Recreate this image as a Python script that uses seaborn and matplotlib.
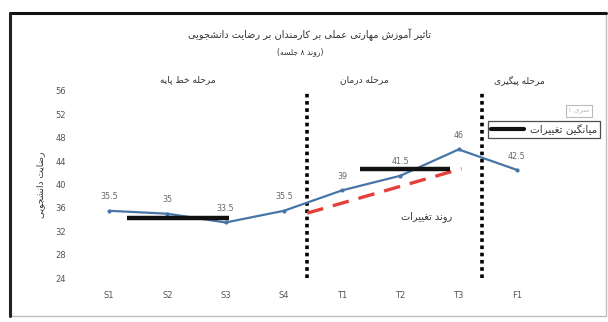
import matplotlib
matplotlib.use("Agg")
import matplotlib.pyplot as plt
import matplotlib.transforms as mtransforms
from matplotlib.lines import Line2D
from matplotlib.patches import Rectangle
import pandas as pd
import seaborn as sns

# ---- data ----
sessions = ["S1", "S2", "S3", "S4", "T1", "T2", "T3", "F1"]
satisfaction = [35.5, 35, 33.5, 35.5, 39, 41.5, 46, 42.5]
value_labels = ["35.5", "35", "33.5", "35.5", "39", "41.5", "46", "42.5"]
phase_names = ["مرحله خط پایه", "مرحله درمان", "مرحله پیگیری"]
phase_bounds = [3.4, 6.4]
mean_values = [34.3, 42.7]
mean_spans = [(0.3, 2.05), (4.3, 5.85)]
trend_x = [3.4, 6.05]
trend_y = [35.1, 42.7]
y_ticks = [24, 28, 32, 36, 40, 44, 48, 52, 56]

title_text = "تاثیر آموزش مهارتی عملی بر کارمندان بر رضایت دانشجویی"
subtitle_text = "(روند ۸ جلسه)"
ylabel_text = "رضایت دانشجویی"
legend_text = "میانگین تغییرات"
series_text = "سری ۱"
trend_text = "روند تغییرات"

# ---- simple Arabic-script shaping (presentation forms + RTL order) ----
FORMS = {
    "ا": (0xFE8D, 0xFE8E), "آ": (0xFE81, 0xFE82), "د": (0xFEA9, 0xFEAA),
    "ذ": (0xFEAB, 0xFEAC), "ر": (0xFEAD, 0xFEAE), "ز": (0xFEAF, 0xFEB0),
    "ژ": (0xFB8A, 0xFB8B), "و": (0xFEED, 0xFEEE),
    "ب": (0xFE8F, 0xFE90, 0xFE91, 0xFE92), "پ": (0xFB56, 0xFB57, 0xFB58, 0xFB59),
    "ت": (0xFE95, 0xFE96, 0xFE97, 0xFE98), "ث": (0xFE99, 0xFE9A, 0xFE9B, 0xFE9C),
    "ج": (0xFE9D, 0xFE9E, 0xFE9F, 0xFEA0), "چ": (0xFB7A, 0xFB7B, 0xFB7C, 0xFB7D),
    "ح": (0xFEA1, 0xFEA2, 0xFEA3, 0xFEA4), "خ": (0xFEA5, 0xFEA6, 0xFEA7, 0xFEA8),
    "س": (0xFEB1, 0xFEB2, 0xFEB3, 0xFEB4), "ش": (0xFEB5, 0xFEB6, 0xFEB7, 0xFEB8),
    "ص": (0xFEB9, 0xFEBA, 0xFEBB, 0xFEBC), "ض": (0xFEBD, 0xFEBE, 0xFEBF, 0xFEC0),
    "ط": (0xFEC1, 0xFEC2, 0xFEC3, 0xFEC4), "ظ": (0xFEC5, 0xFEC6, 0xFEC7, 0xFEC8),
    "ع": (0xFEC9, 0xFECA, 0xFECB, 0xFECC), "غ": (0xFECD, 0xFECE, 0xFECF, 0xFED0),
    "ف": (0xFED1, 0xFED2, 0xFED3, 0xFED4), "ق": (0xFED5, 0xFED6, 0xFED7, 0xFED8),
    "ک": (0xFB8E, 0xFB8F, 0xFB90, 0xFB91), "گ": (0xFB92, 0xFB93, 0xFB94, 0xFB95),
    "ل": (0xFEDD, 0xFEDE, 0xFEDF, 0xFEE0), "م": (0xFEE1, 0xFEE2, 0xFEE3, 0xFEE4),
    "ن": (0xFEE5, 0xFEE6, 0xFEE7, 0xFEE8), "ه": (0xFEE9, 0xFEEA, 0xFEEB, 0xFEEC),
    "ی": (0xFBFC, 0xFBFD, 0xFBFE, 0xFBFF),
}


def rtl(text):
    out = []
    for i, c in enumerate(text):
        if c not in FORMS:
            out.append(c)
            continue
        prev = text[i - 1] if i > 0 else None
        nxt = text[i + 1] if i + 1 < len(text) else None
        join_prev = prev in FORMS and len(FORMS[prev]) == 4
        join_next = len(FORMS[c]) == 4 and nxt in FORMS
        f = FORMS[c]
        if join_prev and join_next:
            g = f[3]
        elif join_prev:
            g = f[1]
        elif join_next:
            g = f[2]
        else:
            g = f[0]
        out.append(chr(g))
    s = "".join(out)[::-1]
    return s.translate(str.maketrans("()", ")("))


# ---- figure ----
sns.set_theme(style="white")
plt.rcParams["font.family"] = ["DejaVu Sans"]

fig = plt.figure(figsize=(6.08, 3.22), dpi=100)
fig.patch.set_facecolor("white")
ax = fig.add_axes([80 / 608, 1 - 278 / 322, 466 / 608, 187 / 322])

df = pd.DataFrame({"pos": range(len(sessions)), "value": satisfaction})
sns.lineplot(data=df, x="pos", y="value", ax=ax, color="#4676a8", linewidth=1.6,
             marker="o", markersize=3, markeredgewidth=0, zorder=3)

# phase boundaries
for xb in phase_bounds:
    ax.axvline(xb, color="black", linestyle=(0, (1, 1)), linewidth=2.6, zorder=2)

# phase means
for (x0, x1), m in zip(mean_spans, mean_values):
    ax.hlines(m, x0, x1, color="#111111", linewidth=3.2, zorder=4)

# trend during treatment
ax.plot(trend_x, trend_y, color="#e3403a", linestyle=(0, (5, 3)), linewidth=2.4,
        solid_capstyle="butt", dash_capstyle="butt", zorder=3)
ax.text(5.45, 34.6, rtl(trend_text), fontsize=7, color="#333333", ha="center", va="center")

# value labels
for i, (v, lab) in enumerate(zip(satisfaction, value_labels)):
    ax.annotate(lab, (i, v), xytext=(0, 10), textcoords="offset points",
                ha="center", va="center", fontsize=5.8, color="#666666")

# phase names above plot
trans = mtransforms.blended_transform_factory(ax.transData, ax.transAxes)
for xc, name in zip([1.36, 4.39, 7.05], phase_names):
    ax.text(xc, 1.06, rtl(name), transform=trans, fontsize=6.5, color="#333333",
            ha="center", va="center", clip_on=False)

ax.set_xlim(-0.5, 7.5)
ax.set_ylim(24, 56)
ax.set_xticks(range(len(sessions)))
ax.set_xticklabels(sessions)
ax.set_yticks(y_ticks)
ax.set_yticklabels([str(t) for t in y_ticks])
ax.tick_params(axis="both", length=0, labelsize=6, labelcolor="#555555")
ax.tick_params(axis="y", pad=10)
ax.tick_params(axis="x", pad=9)
ax.set_xlabel("")
ax.set_ylabel(rtl(ylabel_text), fontsize=6.5, color="#333333")
ax.yaxis.set_label_coords(-0.075, 0.5)
for sp in ax.spines.values():
    sp.set_visible(False)
ax.grid(False)

# titles
fig.text(310 / 608, 1 - 35 / 322, rtl(title_text), fontsize=7, color="#333333",
         ha="center", va="center")
fig.text(300 / 608, 1 - 52 / 322, rtl(subtitle_text), fontsize=5.5, color="#333333",
         ha="center", va="center")

# legends
handle = Line2D([], [], color="#111111", linewidth=3)
leg = fig.legend([handle], [rtl(legend_text)], loc="upper left",
                 bbox_to_anchor=(488 / 608, 1 - 121 / 322), fontsize=7.5,
                 frameon=True, fancybox=False, handlelength=3.2, borderpad=0.3,
                 handletextpad=0.5, borderaxespad=0)
leg.get_frame().set_edgecolor("#222222")
leg.get_frame().set_linewidth(0.9)
for t in leg.get_texts():
    t.set_color("#333333")

fig.text(579 / 608, 1 - 111 / 322, rtl(series_text), fontsize=5, color="#bbbbbb",
         ha="center", va="center",
         bbox=dict(boxstyle="square,pad=0.35", facecolor="white", edgecolor="#bbbbbb", linewidth=0.8))

# outer frame
fig.patches.append(Rectangle((10 / 608, 1 - 316 / 322), 596 / 608, 303 / 322,
                             transform=fig.transFigure, fill=False,
                             edgecolor="#bdbdbd", linewidth=1.0))
fig.lines.append(Line2D([10 / 608, 606 / 608], [1 - 13 / 322, 1 - 13 / 322],
                        transform=fig.transFigure, color="#111111", linewidth=2.2))
fig.lines.append(Line2D([10 / 608, 10 / 608], [1 - 13 / 322, 1 - 316 / 322],
                        transform=fig.transFigure, color="#222222", linewidth=2.2))

fig.savefig("out.png", dpi=100, facecolor="white")
